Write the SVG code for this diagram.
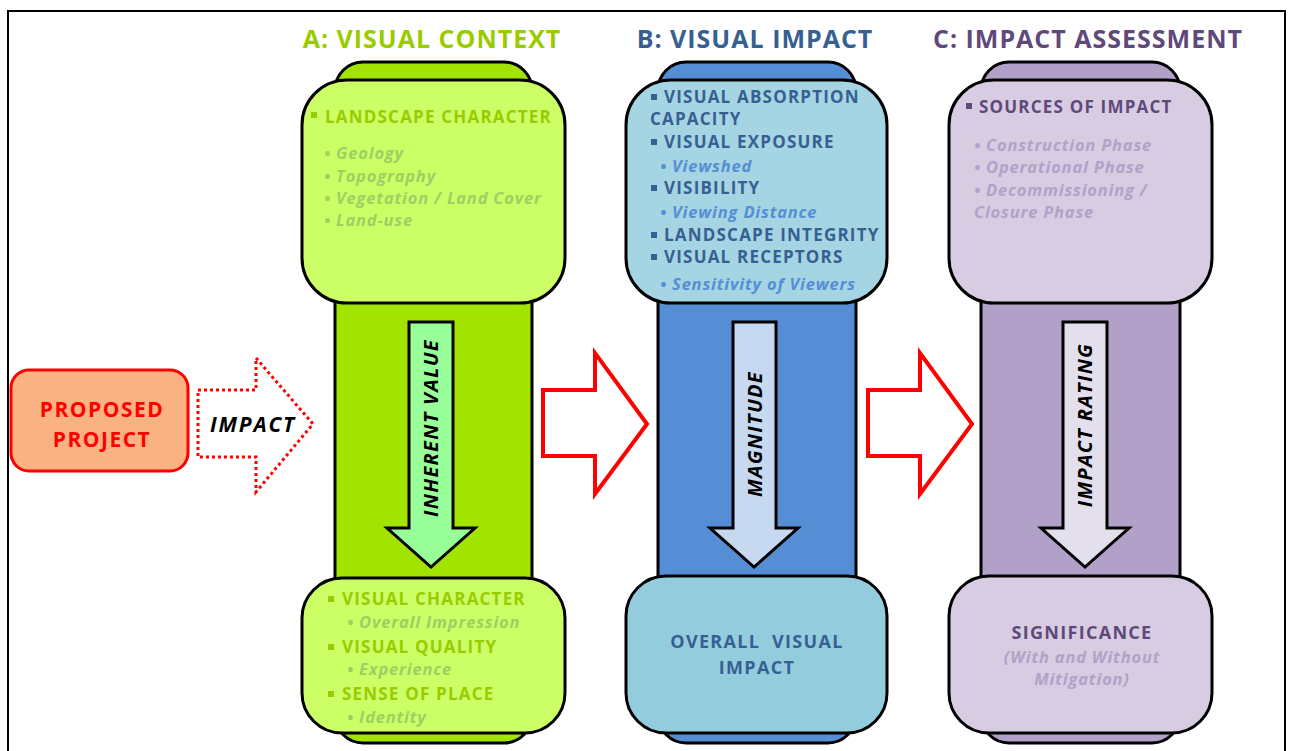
<svg xmlns="http://www.w3.org/2000/svg" width="1290" height="751" viewBox="0 0 1290 751">
<style>
text{font-family:"Open Sans","Noto Sans","Liberation Sans",sans-serif;font-weight:bold}
.title{font-size:25px;letter-spacing:1px;text-anchor:middle}
.h{font-size:17px;letter-spacing:1.2px}
.i{font-size:16.5px;font-style:italic;letter-spacing:0.8px}
.c{font-size:18px;letter-spacing:1.3px;text-anchor:middle}
.box{stroke:#000;stroke-width:3}
.ga{fill:#99CC00}.gi{fill:#9CD062}
.ba{fill:#376092}.bi{fill:#558ED5}
.ca{fill:#5F497A}.ci{fill:#B3A2C7}
.va{font-size:20px;font-style:italic;letter-spacing:1.3px;fill:#000;text-anchor:middle}
</style>
<rect x="0" y="0" width="1290" height="751" fill="#fff"/>
<rect x="8" y="11" width="1277" height="760" fill="none" stroke="#000" stroke-width="2"/>

<g id="titles">
<text class="title ga" x="432" y="48">A: VISUAL CONTEXT</text>
<text class="title ba" x="755" y="48">B: VISUAL IMPACT</text>
<text class="title ca" x="1088" y="48">C: IMPACT ASSESSMENT</text>
</g>

<g id="proposed-project">
<rect x="11" y="370" width="177" height="101" rx="18" fill="#FBB282" stroke="#FF0000" stroke-width="3"/>
<text x="102" y="417" font-size="21" letter-spacing="1.5" fill="#FF0000" text-anchor="middle">PROPOSED</text>
<text x="102" y="447" font-size="21" letter-spacing="1.5" fill="#FF0000" text-anchor="middle">PROJECT</text>
</g>

<g id="connectors">
<path d="M198,390 H256 V358 L313,424 L256,492 V457 H198 Z" fill="#fff" stroke="#FF0000" stroke-width="3" stroke-dasharray="3,3"/>
<text x="253" y="432" font-size="21" letter-spacing="1.8" font-style="italic" fill="#000" text-anchor="middle">IMPACT</text>
<path d="M543,390 H595 V353 L647,424 L595,494 V456 H543 Z" fill="#fff" stroke="#FF0000" stroke-width="4"/>
<path d="M868,390 H920 V353 L972,424 L920,494 V456 H868 Z" fill="#fff" stroke="#FF0000" stroke-width="4"/>
</g>

<g id="column-a">
<rect class="box" x="335" y="62" width="197" height="681" rx="28" fill="#A2E400"/>
<rect class="box" x="302" y="80" width="263" height="223" rx="45" fill="#CCFF66"/>
<rect class="box" x="302" y="578" width="263" height="155" rx="40" fill="#CCFF66"/>
<path d="M409,322 H453 V528 H475 L431,567 L387,528 H409 Z" fill="#99FF99" stroke="#000" stroke-width="3"/>
<text class="va" transform="translate(438,428) rotate(-90)">INHERENT VALUE</text>
<rect x="311" y="112" width="6" height="6" class="ga"/>
<text class="h ga" x="325" y="123">LANDSCAPE CHARACTER</text>
<text class="i gi" x="324" y="159">• Geology</text>
<text class="i gi" x="324" y="182">• Topography</text>
<text class="i gi" x="324" y="204">• Vegetation / Land Cover</text>
<text class="i gi" x="324" y="226">• Land-use</text>
<rect x="328" y="596" width="6" height="6" class="ga"/>
<text class="h ga" x="342" y="605">VISUAL CHARACTER</text>
<text class="i gi" x="347" y="628">• Overall Impression</text>
<rect x="328" y="644" width="6" height="6" class="ga"/>
<text class="h ga" x="342" y="653">VISUAL QUALITY</text>
<text class="i gi" x="347" y="675">• Experience</text>
<rect x="328" y="691" width="6" height="6" class="ga"/>
<text class="h ga" x="342" y="700">SENSE OF PLACE</text>
<text class="i gi" x="347" y="723">• Identity</text>
</g>

<g id="column-b">
<rect class="box" x="658" y="62" width="198" height="681" rx="28" fill="#558ED5"/>
<rect class="box" x="626" y="80" width="261" height="223" rx="45" fill="#A5D5E2"/>
<rect class="box" x="626" y="576" width="261" height="157" rx="40" fill="#93CDDD"/>
<path d="M733,322 H776 V528 H798 L754,567 L710,528 H733 Z" fill="#C6D9F1" stroke="#000" stroke-width="3"/>
<text class="va" transform="translate(762,434) rotate(-90)">MAGNITUDE</text>
<rect x="651" y="94" width="6" height="6" class="ba"/>
<text class="h ba" x="664" y="103">VISUAL ABSORPTION</text>
<text class="h ba" x="650" y="125">CAPACITY</text>
<rect x="651" y="139" width="6" height="6" class="ba"/>
<text class="h ba" x="664" y="148">VISUAL EXPOSURE</text>
<text class="i bi" x="660" y="172">• Viewshed</text>
<rect x="651" y="185" width="6" height="6" class="ba"/>
<text class="h ba" x="664" y="194">VISIBILITY</text>
<text class="i bi" x="660" y="218">• Viewing Distance</text>
<rect x="651" y="232" width="6" height="6" class="ba"/>
<text class="h ba" x="664" y="241">LANDSCAPE INTEGRITY</text>
<rect x="651" y="254" width="6" height="6" class="ba"/>
<text class="h ba" x="664" y="263">VISUAL RECEPTORS</text>
<text class="i bi" x="660" y="290">• Sensitivity of Viewers</text>
<text class="c ba" x="757" y="648" xml:space="preserve">OVERALL  VISUAL</text>
<text class="c ba" x="757" y="674">IMPACT</text>
</g>

<g id="column-c">
<rect class="box" x="981" y="62" width="199" height="681" rx="28" fill="#B1A0C7"/>
<rect class="box" x="949" y="80" width="263" height="223" rx="45" fill="#D7CCE2"/>
<rect class="box" x="949" y="576" width="263" height="157" rx="40" fill="#D7CCE2"/>
<path d="M1063,322 H1107 V528 H1129 L1085,567 L1041,528 H1063 Z" fill="#E4DFEC" stroke="#000" stroke-width="3"/>
<text class="va" transform="translate(1092,425) rotate(-90)">IMPACT RATING</text>
<rect x="966" y="103" width="6" height="6" class="ca"/>
<text class="h ca" x="979" y="113">SOURCES OF IMPACT</text>
<text class="i ci" x="974" y="151">• Construction Phase</text>
<text class="i ci" x="974" y="173">• Operational Phase</text>
<text class="i ci" x="974" y="196">• Decommissioning /</text>
<text class="i ci" x="974" y="218">Closure Phase</text>
<text class="c ca" x="1082" y="639">SIGNIFICANCE</text>
<text class="i ci" x="1082" y="663" text-anchor="middle">(With and Without</text>
<text class="i ci" x="1082" y="685" text-anchor="middle">Mitigation)</text>
</g>
</svg>
